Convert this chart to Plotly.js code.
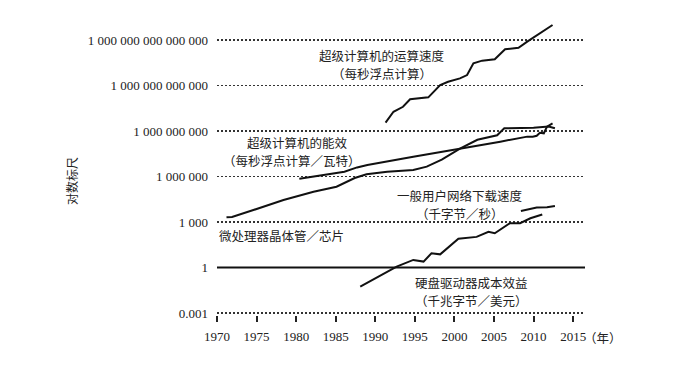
<!DOCTYPE html>
<html>
<head>
<meta charset="utf-8">
<script src="https://cdn.plot.ly/plotly-3.0.1.min.js"></script>
<style>html,body{margin:0;padding:0;background:#fff;}#chart{width:700px;height:386px;}</style>
</head>
<body>
<div id="chart"></div>
<script>
// Supercomputer speed (FLOPS)
const speedYears = [1991.3, 1992.3, 1993.5, 1994.4, 1996.7, 1998.2, 1999.2, 2000.7, 2001.6, 2002.4, 2003.5, 2005.1, 2006.4, 2008.1, 2009.2, 2012.4];
const speedLog   = [9.55, 10.27, 10.6, 11.09, 11.22, 12.03, 12.25, 12.47, 12.69, 13.46, 13.64, 13.73, 14.39, 14.49, 14.89, 15.99];

// Supercomputer energy efficiency (FLOPS / W)
const effYears = [1980.4, 1986.1, 1987.7, 1989.0, 1994.8, 2000.7, 2005.8, 2009.2, 2009.9, 2010.4, 2010.8, 2011.3, 2011.7, 2012.4];
const effLog   = [5.86, 6.32, 6.6, 6.76, 7.31, 7.83, 8.3, 8.63, 8.63, 8.69, 8.89, 8.85, 9.29, 9.51];

// Microprocessor transistors per chip
const cpuYears = [1971.2, 1971.9, 1974.6, 1978.4, 1982.2, 1985.1, 1987.4, 1988.9, 1991.5, 1994.8, 1996.5, 1998.4, 2000.7, 2002.9, 2005.4, 2006.3, 2010.0, 2011.9, 2012.7];
const cpuLog   = [3.31, 3.33, 3.79, 4.45, 5.0, 5.33, 5.9, 6.15, 6.32, 6.43, 6.65, 7.12, 7.84, 8.42, 8.72, 9.18, 9.22, 9.3, 9.18];

// Consumer download speed (KB/s)
const netYears = [2008.4, 2010.4, 2011.7, 2012.7];
const netLog   = [3.73, 3.95, 3.97, 4.06];

// Hard drive cost efficiency (GB / $)
const hddYears = [1988.1, 1992.7, 1994.8, 1996.1, 1997.1, 1998.2, 2000.5, 2002.8, 2004.3, 2005.1, 2007.0, 2008.3, 2009.6, 2011.1];
const hddLog   = [-1.26, 0.06, 0.5, 0.39, 0.94, 0.87, 1.9, 2.02, 2.36, 2.26, 2.92, 2.92, 3.25, 3.5];

// Reference line at 1
const baseYears = [1970, 2016.5];
const baseVals  = [1, 1];

const yTickVals = [0.001, 1, 1e3, 1e6, 1e9, 1e12, 1e15];
const yTickText = ['0.001', '1', '1 000', '1 000 000', '1 000 000 000', '1 000 000 000 000', '1 000 000 000 000 000'];
const xTickVals = [1970, 1975, 1980, 1985, 1990, 1995, 2000, 2005, 2010, 2015];

const toVal = arr => arr.map(v => Math.pow(10, v));
const lineStyle = {color: '#111', width: 2};
const mk = (x, yl) => ({x: x, y: toVal(yl), type: 'scatter', mode: 'lines', line: lineStyle, hoverinfo: 'skip', showlegend: false});

const traces = [
  {x: baseYears, y: baseVals, type: 'scatter', mode: 'lines', line: {color: '#111', width: 2}, showlegend: false, hoverinfo: 'skip'},
  mk(speedYears, speedLog),
  mk(effYears, effLog),
  mk(cpuYears, cpuLog),
  mk(netYears, netLog),
  mk(hddYears, hddLog)
];

const cjk = {family: '"Noto Sans CJK SC", sans-serif', size: 12.5, color: '#222'};
const ann = (x, y, text) => ({xref: 'paper', yref: 'paper', x: (x - 217) / 368, y: (315 - y) / 295, text: text, showarrow: false, font: cjk, xanchor: 'center', yanchor: 'middle', borderpad: 0});

const layout = {
  width: 700, height: 386,
  margin: {l: 217, r: 115, t: 20, b: 71},
  paper_bgcolor: '#fff', plot_bgcolor: '#fff',
  showlegend: false,
  xaxis: {
    range: [1970, 2016.5], tickvals: xTickVals, ticks: 'outside', ticklen: 6, tickwidth: 2, tickcolor: '#222',
    showgrid: false, zeroline: false, showline: false, ticklabelstandoff: 3,
    tickfont: {family: '"Liberation Serif", serif', size: 13, color: '#222'}
  },
  yaxis: {
    type: 'log', range: [-3.13, 16.32], tickvals: yTickVals, ticktext: yTickText, ticks: '',
    showgrid: true, gridcolor: '#333', gridwidth: 1.3, griddash: '2px,2px', zeroline: false, showline: false,
    ticklabelstandoff: 8,
    tickfont: {family: '"Liberation Serif", serif', size: 13, color: '#222'}
  },
  annotations: [
    ann(382, 55, '超级计算机的运算速度'),
    ann(382, 73, '（每秒浮点计算）'),
    ann(297, 142, '超级计算机的能效'),
    ann(292, 160, '（每秒浮点计算／瓦特）'),
    ann(460, 195, '一般用户网络下载速度'),
    ann(460, 213, '（千字节／秒）'),
    ann(281, 235, '微处理器晶体管／芯片'),
    ann(471, 282.5, '硬盘驱动器成本效益'),
    ann(471, 300.5, '（千兆字节／美元）'),
    ann(603, 337, '（年）'),
    {xref: 'paper', yref: 'paper', x: (71 - 217) / 368, y: (315 - 181) / 295, text: '对数标尺', textangle: -90, showarrow: false,
     font: {family: '"Noto Sans CJK SC", sans-serif', size: 12, color: '#222'}, xanchor: 'center', yanchor: 'middle'}
  ]
};

Plotly.newPlot('chart', traces, layout, {staticPlot: true, displayModeBar: false});
</script>
</body>
</html>
